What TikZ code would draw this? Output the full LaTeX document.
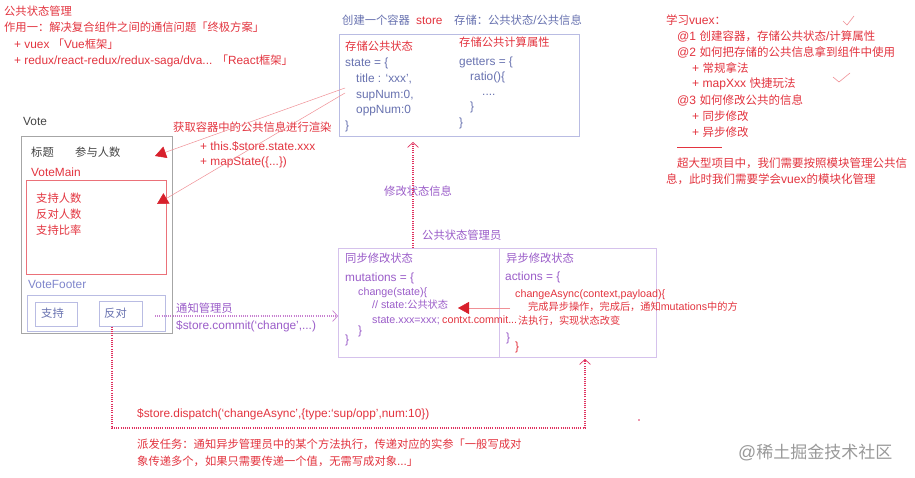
\documentclass[tikz,border=0pt]{standalone}
\usepackage{fontspec}
\setmainfont{Liberation Sans}[Scale=1.05]
\newfontfamily\cjkf{Noto Sans CJK SC}
\newfontfamily\latf{Liberation Sans}[Scale=1.05]
\XeTeXinterchartokenstate=1
\newXeTeXintercharclass\mycjkclass
\newcount\mycnt
\def\setcjkrange#1#2{\mycnt=#1\relax\loop\ifnum\mycnt<#2\relax\XeTeXcharclass\mycnt=\mycjkclass\relax\advance\mycnt by 1\relax\repeat}
\setcjkrange{"3000}{"3040}
\setcjkrange{"4E00}{"A000}
\setcjkrange{"FF00}{"FF61}
\XeTeXcharclass"2018=0 \XeTeXcharclass"2019=0 \XeTeXcharclass"201C=0 \XeTeXcharclass"201D=0 \XeTeXcharclass"2026=0
\XeTeXinterchartoks 0 \mycjkclass = {\cjkf}
\XeTeXinterchartoks 4095 \mycjkclass = {\cjkf}
\XeTeXinterchartoks \mycjkclass 0 = {\latf}
\XeTeXinterchartoks \mycjkclass 4095 = {\latf}
\usetikzlibrary{arrows.meta}
\definecolor{mred}{HTML}{E3343F}
\definecolor{dred}{HTML}{D8202C}
\definecolor{lred}{HTML}{F09096}
\definecolor{mpur}{HTML}{9B5DC9}
\definecolor{mblue}{HTML}{6872B0}
\definecolor{fblue}{HTML}{7F86CC}
\definecolor{dgray}{HTML}{444444}
\definecolor{sbord}{HTML}{B9BCE3}
\definecolor{mbord}{HTML}{D5C2EC}
\definecolor{dotred}{HTML}{E0305E}
\definecolor{dotpur}{HTML}{C77FD0}
\begin{document}
\begin{tikzpicture}[x=1pt,y=-1pt,
  t/.style={anchor=base west,inner sep=0pt,font=\fontsize{11.3}{13}\selectfont},
  ts/.style={anchor=base west,inner sep=0pt,font=\fontsize{10.2}{12}\selectfont},
  tr/.style={anchor=base west,inner sep=0pt,font=\fontsize{11.5}{13}\selectfont,text=mred},
  boxn/.style={draw,anchor=north west,inner sep=0pt,line width=0.6pt},
  getarrow/.style={draw=lred,line width=0.5pt,-{Triangle[length=11pt,width=12pt,color=dred]}},
  dotarrow/.style={line width=1.1pt,dash pattern=on 1pt off 1.2pt,-{Straight Barb[length=5pt,width=11pt,line width=0.7pt]}},
  chk/.style={draw=lred,line width=0.6pt}
]
\useasboundingbox (0,0) rectangle (915,478);
\fill[white] (0,0) rectangle (915,478);

% ---- top left ----
\node[t,text=mred] (tl1) at (4,16) {公共状态管理};
\node[t,text=mred] (tl2) at (4,32) {作用一：解决复合组件之间的通信问题「终极方案」};
\node[t,text=mred] (tl3) at (14,49) {+ vuex 「Vue框架」};
\node[t,text=mred] (tl4) at (14,65) {+ redux/react-redux/redux-saga/dva... 「React框架」};

% ---- Vote component ----
\node[t,text=dgray] (votelbl) at (23,126) {Vote};
\node[boxn,draw=gray!70,minimum width=151pt,minimum height=197pt] (vote) at (21,136) {};
\node[t,text=dgray] (vt1) at (31,157) {标题};
\node[t,text=dgray] (vt2) at (75,157) {参与人数};
\node[t,text=mred] (vmainlbl) at (31,177) {VoteMain};
\node[boxn,draw=mred!70,minimum width=140pt,minimum height=94pt] (vmain) at (26,180) {};
\node[t,text=mred] (vm1) at (36,203) {支持人数};
\node[t,text=mred] (vm2) at (36,219) {反对人数};
\node[t,text=mred] (vm3) at (36,235) {支持比率};
\node[t,text=fblue] (vfootlbl) at (28,288) {VoteFooter};
\node[boxn,draw=sbord,minimum width=138pt,minimum height=36pt] (vfoot) at (27,295) {};
\node[boxn,draw=sbord,minimum width=42pt,minimum height=24pt] (supbtn) at (35,302) {};
\node[t,text=mblue] (suptxt) at (41,317) {支持};
\node[boxn,draw=sbord,minimum width=43pt,minimum height=25pt] (oppbtn) at (99,301) {};
\node[t,text=mblue] (opptxt) at (104,317) {反对};

% ---- render annotation ----
\node[t,text=mred] (g1) at (173,132) {获取容器中的公共信息进行渲染};
\node[t,text=mred] (g2) at (200,151) {+ this.\$store.state.xxx};
\node[t,text=mred] (g3) at (200,166) {+ mapState(\{...\})};

% ---- store ----
\node[t,text=mblue] (st1) at (342,25) {创建一个容器};
\node[t,text=mred] (st2) at (416,25) {store};
\node[t,text=mblue] (st3) at (454,25) {存储：公共状态/公共信息};
\node[boxn,draw=sbord,minimum width=240pt,minimum height=102pt] (store) at (339,34) {};
\node[t,text=mred] (sa0) at (345,51) {存储公共状态};
\node[t,text=mblue] (sa1) at (345,67) {state = \{};
\node[t,text=mblue] (sa2) at (356,83) {title : ‘xxx’,};
\node[t,text=mblue] (sa3) at (356,99) {supNum:0,};
\node[t,text=mblue] (sa4) at (356,114) {oppNum:0};
\node[t,text=mblue] (sa5) at (345,130) {\}};
\node[t,text=mred] (sb0) at (459,47) {存储公共计算属性};
\node[t,text=mblue] (sb1) at (459,66) {getters = \{};
\node[t,text=mblue] (sb2) at (470,81) {ratio()\{};
\node[t,text=mblue] (sb3) at (482,96) {....};
\node[t,text=mblue] (sb4) at (470,111) {\}};
\node[t,text=mblue] (sb5) at (459,127) {\}};

% ---- state manager ----
\node[t,text=mpur] (mvlbl) at (384,196) {修改状态信息};
\node[t,text=mpur] (mgrlbl) at (422,240) {公共状态管理员};
\node[boxn,draw=mbord,minimum width=318pt,minimum height=109pt] (mgr) at (338,248) {};
\draw[mbord,line width=0.6pt] (499,248) -- (499,357);
\node[t,text=mpur] (mu0) at (345,262) {同步修改状态};
\node[t,text=mpur] (mu1) at (345,281) {mutations = \{};
\node[ts,text=mpur] (mu2) at (358,295) {change(state)\{};
\node[ts,text=mpur] (mu3) at (372,308) {// state:公共状态};
\node[ts,text=mpur] (mu4) at (372,323) {state.xxx=xxx;};
\node[ts,text=mred] (mu5) at (442,323) {contxt.commit...};
\node[t,text=mpur] (mu6) at (358,334) {\}};
\node[t,text=mpur] (mu7) at (345,343) {\}};
\node[t,text=mpur] (ac0) at (506,262) {异步修改状态};
\node[t,text=mpur] (ac1) at (505,280) {actions = \{};
\node[ts,text=mred] (ac2) at (515,297) {changeAsync(context,payload)\{};
\node[ts,text=mred] (ac3) at (528,310) {完成异步操作，完成后，通知mutations中的方};
\node[ts,text=mred] (ac4) at (518,324) {法执行，实现状态改变};
\node[t,text=mpur] (ac5) at (506,341) {\}};
\node[t,text=mred] (ac6) at (515,350) {\}};

% ---- commit ----
\node[t,text=mpur] (c1) at (176,312) {通知管理员};
\node[t,text=mpur] (c2) at (176,329) {\$store.commit(‘change’,...)};

% ---- dispatch ----
\node[t,text=mred] (d1) at (137,417) {\$store.dispatch(‘changeAsync’,\{type:‘sup/opp’,num:10\})};
\node[t,text=mred] (d2) at (137,448) {派发任务：通知异步管理员中的某个方法执行，传递对应的实参「一般写成对};
\node[t,text=mred] (d3) at (137,465) {象传递多个，如果只需要传递一个值，无需写成对象...」};

% ---- right notes ----
\node[tr] (r1) at (666,25) {学习vuex：};
\node[tr] (r2) at (677,41) {@1 创建容器，存储公共状态/计算属性};
\node[tr] (r3) at (677,57) {@2 如何把存储的公共信息拿到组件中使用};
\node[tr] (r4) at (692,73) {+ 常规拿法};
\node[tr] (r5) at (692,88) {+ mapXxx 快捷玩法};
\node[tr] (r6) at (677,105) {@3 如何修改公共的信息};
\node[tr] (r7) at (692,121) {+ 同步修改};
\node[tr] (r8) at (692,137) {+ 异步修改};
\draw[mred,line width=0.6pt] (677,147) -- (722,147);
\node[tr] (r9) at (677,168) {超大型项目中，我们需要按照模块管理公共信};
\node[tr] (r10) at (666,184) {息，此时我们需要学会vuex的模块化管理};
\draw[chk] (843,21) -- (847,25) -- (854,16);
\draw[chk] (833,77) -- (839,82) -- (850,73);

% ---- watermark ----
\node[anchor=base west,inner sep=0pt,font=\fontsize{17}{19}\selectfont,text=gray!80] (wm) at (738,458) {@稀土掘金技术社区};
\fill[dotred] (639,420) circle (0.8pt);

% ---- connectors ----
\coordinate (s1) at (345,88);
\coordinate (s2) at (345,93);
\coordinate (v1) at (155,156);
\coordinate (v2) at (157,204);
\draw[getarrow] (s1) -- (v1);
\draw[getarrow] (s2) -- (v2);

\coordinate (cm0) at (155,316);
\draw[dotarrow,dotpur] (cm0) -- (mgr.west |- cm0);

\coordinate (up0) at (413,248);
\coordinate (up1) at (413,142);
\draw[dotarrow,dotred] (up0) -- (up1);

\coordinate (aa0) at (510,308);
\coordinate (aa1) at (458,308);
\draw[getarrow] (aa0) -- (aa1);

\coordinate (dp1) at (112,428);
\coordinate (dp2) at (585,428);
\coordinate (dp3) at (585,359);
\draw[dotarrow,dotred] (oppbtn.south -| dp1) -- (dp1) -- (dp2) -- (dp3);
\end{tikzpicture}
\end{document}
